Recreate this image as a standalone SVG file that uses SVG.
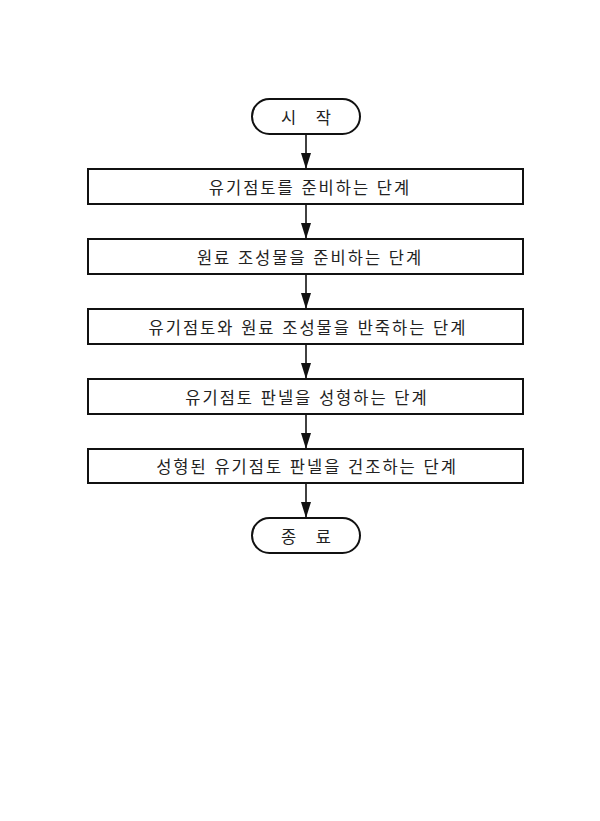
<svg xmlns="http://www.w3.org/2000/svg" width="600" height="821" viewBox="0 0 600 821">
<style>
.s{fill:#fff;stroke:#111;stroke-width:2}
.t{font-family:"Noto Sans CJK KR","Noto Sans",sans-serif;font-size:16.5px;font-weight:400;fill:#222;text-anchor:middle;dominant-baseline:central;letter-spacing:2px;word-spacing:1px}
.c{stroke:#111;stroke-width:1.6;fill:none;marker-end:url(#a)}
</style>
<defs><marker id="a" markerWidth="16" markerHeight="10" refX="16" refY="5" orient="auto" markerUnits="userSpaceOnUse" viewBox="0 0 16 10"><path d="M0,0L16,5L0,10Z" fill="#111"/></marker></defs>
<rect width="600" height="821" fill="#fff"/>
<g id="connectors">
<line class="c" x1="306" y1="134" x2="306" y2="169"/>
<line class="c" x1="306" y1="204" x2="306" y2="239"/>
<line class="c" x1="306" y1="274" x2="306" y2="309"/>
<line class="c" x1="306" y1="344" x2="306" y2="379"/>
<line class="c" x1="306" y1="414" x2="306" y2="449"/>
<line class="c" x1="306" y1="483" x2="306" y2="518"/>
</g>
<g id="start"><rect class="s" x="252" y="99" width="108" height="35" rx="17.5"/><text class="t" x="307" y="116.5" font-size="19" style="word-spacing:12px">시 작</text></g>
<g id="n1"><rect class="s" x="88" y="169" width="435" height="35"/><text class="t" x="310" y="186.5">유기점토를 준비하는 단계</text></g>
<g id="n2"><rect class="s" x="88" y="239" width="435" height="35"/><text class="t" x="310" y="256.5">원료 조성물을 준비하는 단계</text></g>
<g id="n3"><rect class="s" x="88" y="309" width="435" height="35"/><text class="t" x="308" y="326.5">유기점토와 원료 조성물을 반죽하는 단계</text></g>
<g id="n4"><rect class="s" x="88" y="379" width="435" height="35"/><text class="t" x="307" y="396.5">유기점토 판넬을 성형하는 단계</text></g>
<g id="n5"><rect class="s" x="88" y="449" width="435" height="34"/><text class="t" x="307" y="466">성형된 유기점토 판넬을 건조하는 단계</text></g>
<g id="end"><rect class="s" x="252" y="518" width="108" height="35" rx="17.5"/><text class="t" x="307" y="535.5" font-size="19" style="word-spacing:12px">종 료</text></g>
</svg>
